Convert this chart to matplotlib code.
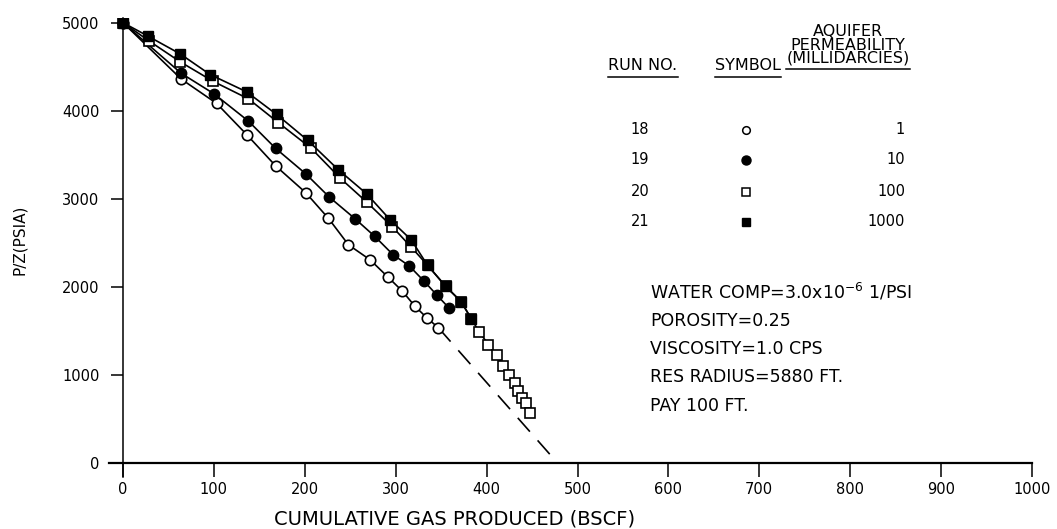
import matplotlib
matplotlib.use("Agg")
import matplotlib.pyplot as plt
from matplotlib.lines import Line2D

W, H = 1057, 529

# P/Z vs cumulative gas
# run 18 - open circles, k = 1 md
run18_x = [0, 64, 103, 136, 168, 201, 226, 248, 272, 291, 307, 321, 334, 347]
run18_y = [5000, 4360, 4083, 3730, 3373, 3070, 2778, 2478, 2306, 2116, 1955, 1782, 1651, 1535]

# run 19 - filled circles, k = 10 md
run19_x = [0, 64, 100, 138, 168, 201, 227, 255, 277, 297, 315, 331, 345, 359]
run19_y = [5000, 4425, 4193, 3882, 3572, 3284, 3019, 2776, 2573, 2366, 2237, 2067, 1910, 1756]

# run 20 - open squares, k = 100 md
run20_x = [0, 29, 63, 99, 138, 171, 207, 239, 268, 296, 317, 335, 355, 372, 383,
           392, 402, 411, 418, 425, 431, 435, 439, 443, 448]
run20_y = [5000, 4790, 4555, 4335, 4135, 3864, 3574, 3234, 2964, 2685, 2452, 2246, 2006, 1832, 1640,
           1487, 1345, 1225, 1103, 1000, 910, 821, 738, 680, 573]

# run 21 - filled squares, k = 1000 md
run21_x = [0, 27, 63, 96, 136, 169, 203, 237, 268, 294, 317, 335, 355, 372, 383]
run21_y = [5000, 4850, 4645, 4410, 4215, 3958, 3666, 3329, 3057, 2760, 2535, 2246, 2006, 1832, 1640]

# extrapolation of run 18 down to P/Z = 0
extrap_x = [347, 478]
extrap_y = [1535, 0]

run_no = ["18", "19", "20", "21"]
perm_md = ["1", "10", "100", "1000"]

notes = ["WATER COMP=3.0x10$^{-6}$ 1/PSI", "POROSITY=0.25", "VISCOSITY=1.0 CPS",
         "RES RADIUS=5880 FT.", "PAY 100 FT."]


def fx(px):
    return px / W


def fy(py):
    return 1 - py / H


plt.rcParams['font.family'] = ['DejaVu Sans']
fig = plt.figure(figsize=(W / 100, H / 100), dpi=100)
ax = fig.add_axes([fx(109.4), fy(477.1), 922.6 / W, 458.8 / H])

ax.plot(extrap_x, extrap_y, color='black', lw=1.2, dashes=(11, 7))
ax.plot(run18_x, run18_y, color='black', lw=1.2, marker='o', ms=7.5,
        mfc='white', mec='black', mew=1.2, zorder=3)
ax.plot(run19_x, run19_y, color='black', lw=1.2, marker='o', ms=7.5,
        mfc='black', mec='black', zorder=3)
ax.plot(run20_x, run20_y, color='black', lw=1.2, marker='s', ms=6.8,
        mfc='white', mec='black', mew=1.2, zorder=4)
ax.plot(run21_x, run21_y, color='black', lw=1.2, marker='s', ms=6.8,
        mfc='black', mec='black', zorder=5)

ax.set_xlim(-15, 1000)
ax.set_ylim(-160, 5050)
ax.spines['left'].set_position(('data', 0))
ax.spines['bottom'].set_position(('data', 0))
ax.spines['top'].set_visible(False)
ax.spines['right'].set_visible(False)
ax.spines['left'].set_linewidth(1.1)
ax.spines['bottom'].set_linewidth(1.6)

ax.set_xticks(range(0, 1001, 100))
ax.set_yticks(range(0, 5001, 1000))
ax.tick_params(axis='x', direction='out', length=10, width=1.1, pad=4, labelsize=10.5)
ax.tick_params(axis='y', direction='out', length=9, width=1.1, pad=8, labelsize=10.5)

fig.text(fx(455), fy(519), "CUMULATIVE GAS PRODUCED (BSCF)", ha='center', va='center', fontsize=14)
fig.text(fx(20), fy(240), "P/Z(PSIA)", ha='center', va='center', rotation=90, fontsize=11)

# legend table
under = []
under.append(fig.text(fx(643), fy(66), "RUN NO.", ha='center', va='center', fontsize=11.5))
under.append(fig.text(fx(748), fy(66), "SYMBOL", ha='center', va='center', fontsize=11.5))
fig.text(fx(848), fy(32), "AQUIFER", ha='center', va='center', fontsize=11.5)
fig.text(fx(848), fy(45), "PERMEABILITY", ha='center', va='center', fontsize=11.5)
under.append(fig.text(fx(848), fy(58), "(MILLIDARCIES)", ha='center', va='center', fontsize=11.5))

row_y = [130, 160, 192, 222]
sym_style = [dict(marker='o', ms=5.5, mfc='white', mec='black', mew=1.1),
             dict(marker='o', ms=6.5, mfc='black', mec='black'),
             dict(marker='s', ms=5.5, mfc='white', mec='black', mew=1.1),
             dict(marker='s', ms=5.5, mfc='black', mec='black')]
for r, k, yy, st in zip(run_no, perm_md, row_y, sym_style):
    fig.text(fx(640), fy(yy), r, ha='center', va='center', fontsize=10.5)
    fig.text(fx(905), fy(yy), k, ha='right', va='center', fontsize=10.5)
    fig.add_artist(Line2D([fx(746)], [fy(yy)], transform=fig.transFigure, ls='none', **st))

for i, s in enumerate(notes):
    fig.text(fx(650), fy(292 + 28.5 * i), s, ha='left', va='center', fontsize=12.5)

fig.canvas.draw()
rend = fig.canvas.get_renderer()
for t in under:
    bb = t.get_window_extent(rend)
    yb = (bb.y0 - 3) / H
    fig.add_artist(Line2D([bb.x0 / W, bb.x1 / W], [yb, yb], transform=fig.transFigure,
                          color='black', lw=1.1))

fig.savefig("out.png", dpi=100)
